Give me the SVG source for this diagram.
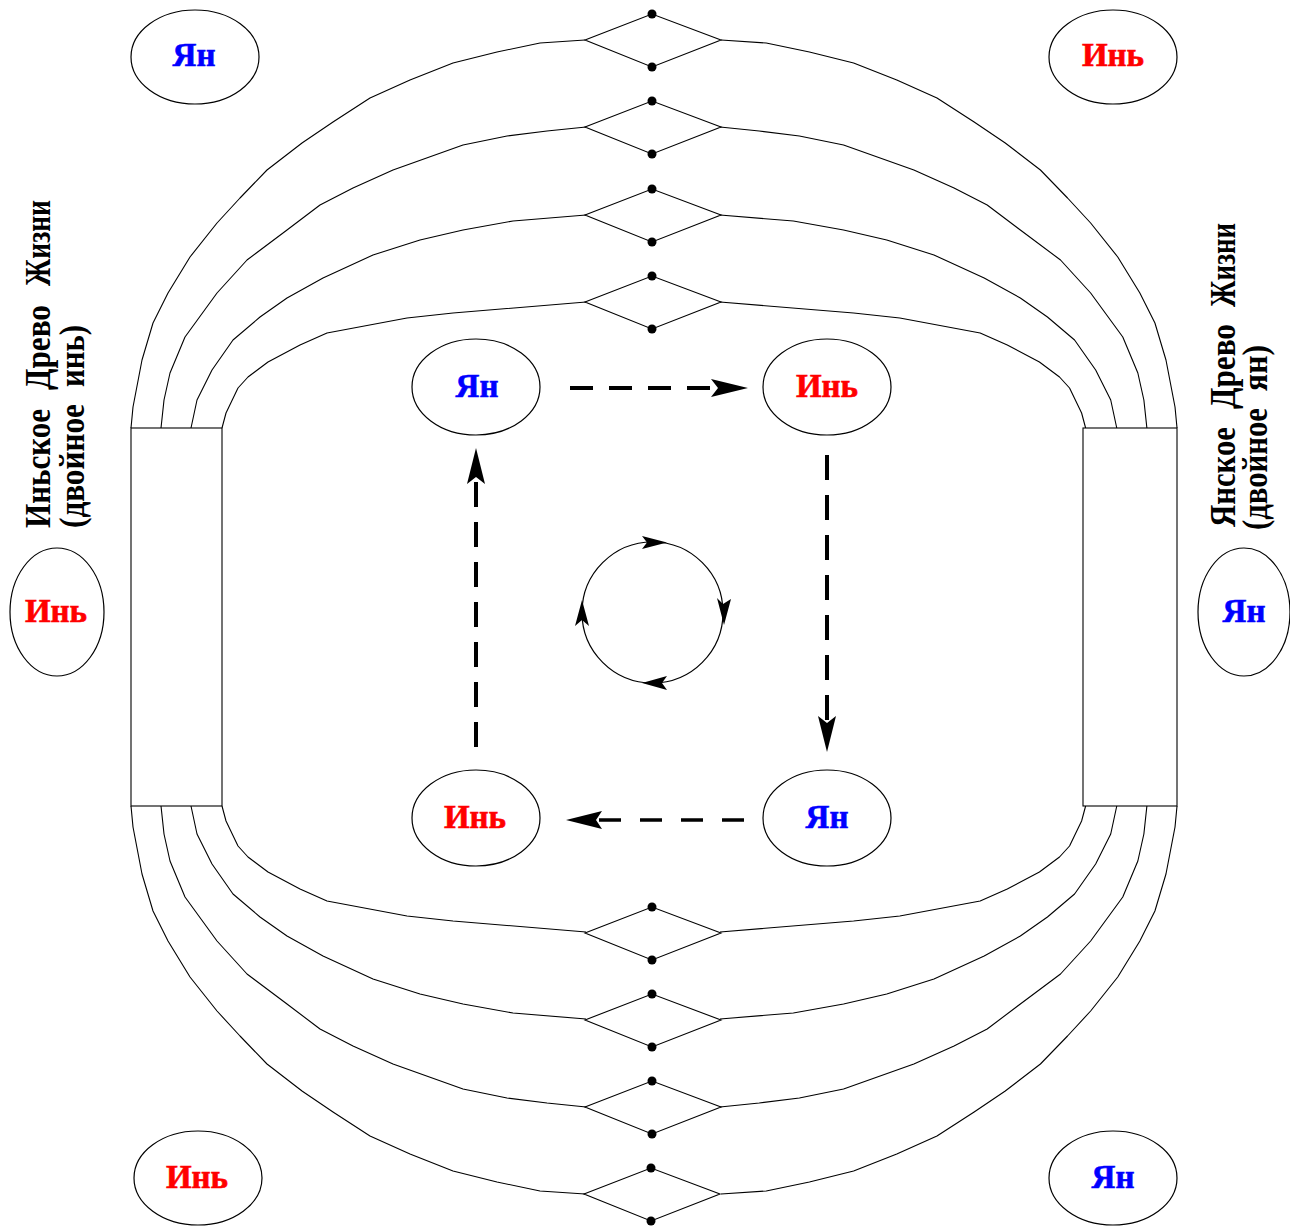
<svg xmlns="http://www.w3.org/2000/svg" xmlns:xlink="http://www.w3.org/1999/xlink" width="1290" height="1227" viewBox="0 0 1290 1227">
<style>
.bg{fill:#fff}
.node ellipse{fill:#fff;stroke:#000;stroke-width:1.2}
.lbl{font-family:"Liberation Serif","DejaVu Serif",serif;font-weight:bold;font-size:33px;text-anchor:middle;stroke-width:0.6}
.yan{fill:#0000ff;stroke:#0000ff}
.yin{fill:#ff0000;stroke:#ff0000}
.curve{fill:none;stroke:#000;stroke-width:1.1;stroke-linejoin:round}
.box{fill:#fff;stroke:#000;stroke-width:1.1}
.dia{fill:none;stroke:#000;stroke-width:1.1}
.dot{fill:#000}
.dash{fill:none;stroke:#000;stroke-width:4}
.head{fill:#000}
.circ{fill:none;stroke:#000;stroke-width:1.2}
.vt{font-family:"Liberation Serif","DejaVu Serif",serif;font-weight:bold;font-size:31px;fill:#000}
</style>
<defs>
<g id="quad">
<path class="curve" d="M131,428 L133,407 L142,360 L153,323 L168,293 L190,257 L217,223 L240,198 L267,170 L302,143 L333,122 L370,98 L410,80 L453,63 L497,52 L540,43 L585,40"/>
<path class="curve" d="M161,428 L164,400 L170,373 L185,337 L217,293 L247,260 L287,230 L320,205 L353,188 L393,170 L463,145 L507,136 L547,131 L586,127"/>
<path class="curve" d="M191,428 L197,400 L212,370 L233,340 L260,317 L287,298 L323,278 L373,255 L420,240 L463,230 L513,221 L586,215"/>
<path class="curve" d="M222,428 L226,413 L238,388 L248,377 L268,362 L300,345 L327,333 L407,318 L453,313 L586,302"/>
</g>
<g id="dmd">
<polygon class="dia" points="585,0 652,-26 721,0 652,27"/>
<circle class="dot" cx="652" cy="-26" r="4.5"/>
<circle class="dot" cx="652" cy="27" r="4.5"/>
</g>
</defs>
<rect class="bg" x="0" y="0" width="1290" height="1227"/>

<g id="frame">
<use xlink:href="#quad"/>
<use xlink:href="#quad" transform="matrix(-1.0044 0 0 1 1308.6 0)"/>
<use xlink:href="#quad" transform="matrix(1 0 0 -1 0 1234)"/>
<use xlink:href="#quad" transform="matrix(-1.0044 0 0 -1 1308.6 1234)"/>
<rect class="box" x="131" y="428" width="91" height="378"/>
<rect class="box" x="1083" y="428" width="94" height="378"/>
<use xlink:href="#dmd" transform="translate(0,40)"/>
<use xlink:href="#dmd" transform="translate(0,127)"/>
<use xlink:href="#dmd" transform="translate(0,215)"/>
<use xlink:href="#dmd" transform="translate(0,302)"/>
<use xlink:href="#dmd" transform="translate(0,933)"/>
<use xlink:href="#dmd" transform="translate(0,1020)"/>
<use xlink:href="#dmd" transform="translate(0,1107)"/>
<use xlink:href="#dmd" transform="translate(-1,1194)"/>
</g>

<g id="labels">
<g transform="translate(50,528) rotate(-90) scale(1,1.15)">
<text class="vt" x="0" textLength="119" lengthAdjust="spacingAndGlyphs">Иньское</text>
<text class="vt" x="138" textLength="85" lengthAdjust="spacingAndGlyphs">Древо</text>
<text class="vt" x="242" textLength="86" lengthAdjust="spacingAndGlyphs">Жизни</text>
</g>
<g transform="translate(84,528) rotate(-90) scale(1,1.15)">
<text class="vt" x="0" textLength="124" lengthAdjust="spacingAndGlyphs">(двойное</text>
<text class="vt" x="141" textLength="62" lengthAdjust="spacingAndGlyphs">инь)</text>
</g>
<g transform="translate(1235,527) rotate(-90) scale(1,1.15)">
<text class="vt" x="0" textLength="100" lengthAdjust="spacingAndGlyphs">Янское</text>
<text class="vt" x="118" textLength="85" lengthAdjust="spacingAndGlyphs">Древо</text>
<text class="vt" x="220" textLength="84" lengthAdjust="spacingAndGlyphs">Жизни</text>
</g>
<g transform="translate(1267,530) rotate(-90) scale(1,1.15)">
<text class="vt" x="0" textLength="122" lengthAdjust="spacingAndGlyphs">(двойное</text>
<text class="vt" x="139" textLength="46" lengthAdjust="spacingAndGlyphs">ян)</text>
</g>
</g>

<g id="n-tl" class="node"><ellipse cx="195" cy="57" rx="64" ry="47"/><text class="lbl yan" x="194" y="66">Ян</text></g>
<g id="n-tr" class="node"><ellipse cx="1113" cy="57" rx="64" ry="47"/><text class="lbl yin" x="1113" y="66">Инь</text></g>
<g id="n-l" class="node"><ellipse cx="57" cy="612" rx="47" ry="64"/><text class="lbl yin" x="56" y="622">Инь</text></g>
<g id="n-r" class="node"><ellipse cx="1244" cy="612" rx="46" ry="64"/><text class="lbl yan" x="1244" y="622">Ян</text></g>
<g id="n-bl" class="node"><ellipse cx="198" cy="1178" rx="64" ry="47"/><text class="lbl yin" x="197" y="1188">Инь</text></g>
<g id="n-br" class="node"><ellipse cx="1113" cy="1178" rx="64" ry="47"/><text class="lbl yan" x="1113" y="1188">Ян</text></g>
<g id="n-i1" class="node"><ellipse cx="476" cy="387" rx="64" ry="48"/><text class="lbl yan" x="477" y="397">Ян</text></g>
<g id="n-i2" class="node"><ellipse cx="827" cy="387" rx="64" ry="48"/><text class="lbl yin" x="827" y="397">Инь</text></g>
<g id="n-i3" class="node"><ellipse cx="476" cy="818" rx="64" ry="48"/><text class="lbl yin" x="475" y="828">Инь</text></g>
<g id="n-i4" class="node"><ellipse cx="827" cy="818" rx="64" ry="48"/><text class="lbl yan" x="827" y="828">Ян</text></g>

<g id="connectors">
<line class="dash" x1="570" y1="388" x2="716" y2="388" stroke-dasharray="23 16"/>
<path class="head" d="M748,388 L711,379 L718,388 L711,397 Z"/>
<line class="dash" x1="827" y1="455" x2="827" y2="722" stroke-dasharray="25 15"/>
<path class="head" d="M827,752 L818,716 L827,723 L836,716 Z"/>
<line class="dash" x1="744" y1="820" x2="598" y2="820" stroke-dasharray="22 19" style="stroke-width:3.3"/>
<path class="head" d="M566,820 L602,811 L596,820 L602,829 Z"/>
<line class="dash" x1="476" y1="747" x2="476" y2="480" stroke-dasharray="25 15"/>
<path class="head" d="M476,448 L467,484 L476,477 L485,484 Z"/>
<g id="cycle">
<circle class="circ" cx="652.5" cy="612.5" r="70.5"/>
<path class="head" d="M667,542.5 L642,536 L647,542.5 L642,549 Z"/>
<path class="head" d="M724,625 L717,598 L723,604 L731,599 Z"/>
<path class="head" d="M642,683 L667,676 L662,683 L667,690 Z"/>
<path class="head" d="M582,600 L575,626 L582,620 L589,626 Z"/>
</g>
</g>
</svg>
